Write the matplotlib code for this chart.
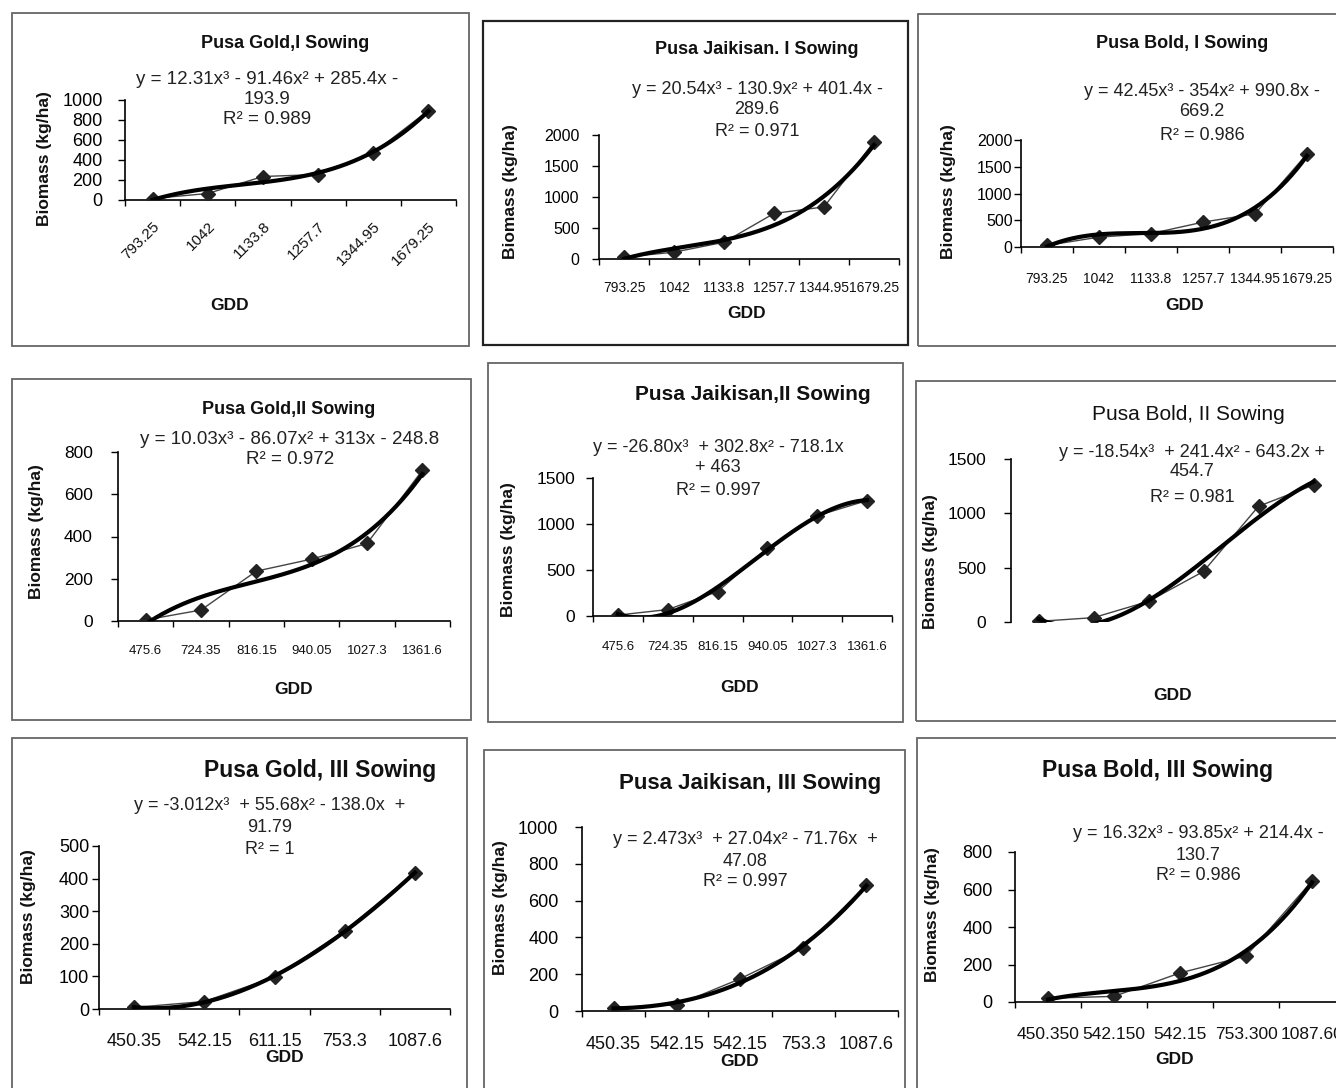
import numpy as np
import matplotlib
matplotlib.use("Agg")
import matplotlib.pyplot as plt
from matplotlib.patches import Rectangle

plt.rcParams['font.family'] = ['Liberation Sans', 'DejaVu Sans']

W, H = 1336, 1088

# GDD category labels
gdd_sow1 = ['793.25', '1042', '1133.8', '1257.7', '1344.95', '1679.25']
gdd_sow2 = ['475.6', '724.35', '816.15', '940.05', '1027.3', '1361.6']
gdd_sow3_gold = ['450.35', '542.15', '611.15', '753.3', '1087.6']
gdd_sow3_jai = ['450.35', '542.15', '542.15', '753.3', '1087.6']
gdd_sow3_bold = ['450.350', '542.150', '542.15', '753.300', '1087.60']

# biomass (kg/ha)
gold_1 = [15, 65, 235, 255, 470, 895]
jai_1 = [30, 110, 270, 735, 840, 1890]
bold_1 = [30, 185, 250, 465, 620, 1740]
gold_2 = [5, 52, 236, 293, 367, 713]
jai_2 = [10, 70, 265, 735, 1090, 1255]
bold_2 = [6, 40, 190, 465, 1065, 1260]
gold_3 = [5, 23, 98, 240, 418]
jai_3 = [18, 33, 175, 342, 685]
bold_3 = [20, 30, 155, 245, 645]

titles = ['Pusa Gold,I Sowing', 'Pusa Jaikisan. I Sowing', 'Pusa Bold, I Sowing',
          'Pusa Gold,II Sowing', 'Pusa Jaikisan,II Sowing', 'Pusa Bold, II Sowing',
          'Pusa Gold, III Sowing', 'Pusa Jaikisan, III Sowing', 'Pusa Bold, III Sowing']

equations = [
    ['y = 12.31x³ - 91.46x² + 285.4x -', '193.9', 'R² = 0.989'],
    ['y = 20.54x³ - 130.9x² + 401.4x -', '289.6', 'R² = 0.971'],
    ['y = 42.45x³ - 354x² + 990.8x -', '669.2', 'R² = 0.986'],
    ['y = 10.03x³ - 86.07x² + 313x - 248.8', 'R² = 0.972'],
    ['y = -26.80x³  + 302.8x² - 718.1x', '+ 463', 'R² = 0.997'],
    ['y = -18.54x³  + 241.4x² - 643.2x +', '454.7', 'R² = 0.981'],
    ['y = -3.012x³  + 55.68x² - 138.0x  +', '91.79', 'R² = 1'],
    ['y = 2.473x³  + 27.04x² - 71.76x  +', '47.08', 'R² = 0.997'],
    ['y = 16.32x³ - 93.85x² + 214.4x -', '130.7', 'R² = 0.986'],
]

series = [gold_1, jai_1, bold_1, gold_2, jai_2, bold_2, gold_3, jai_3, bold_3]
xlabels = [gdd_sow1, gdd_sow1, gdd_sow1, gdd_sow2, gdd_sow2, None,
           gdd_sow3_gold, gdd_sow3_jai, gdd_sow3_bold]

# layout in pixels: box, axes (left, top, right, bottom), y range, text spots
layout = [
    dict(box=(12, 13, 469, 346), ax=(125, 100, 456, 200), ymax=1000, ystep=200,
         title=(285, 43, 13, 'bold'), eq=(267, [79, 99, 120], 13.5), ylab=(44, 159),
         gdd=(230, 305), yts=13, ypad=11, xts=11, xpad=14, rot=45),
    dict(box=(483, 21, 908, 345), ax=(599, 135, 899, 259), ymax=2000, ystep=500,
         title=(757, 49, 13, 'bold'), eq=(757, [90, 110, 131], 13), ylab=(510, 192),
         gdd=(747, 314), yts=11.5, ypad=9, xts=10, xpad=16, rot=0),
    dict(box=(918, 14, 1345, 346), ax=(1021, 140, 1333, 247), ymax=2000, ystep=500,
         title=(1182, 44, 13, 'bold'), eq=(1202, [92, 112, 135], 13), ylab=(948, 192),
         gdd=(1185, 305), yts=11.5, ypad=1, xts=10, xpad=18, rot=0),
    dict(box=(12, 379, 471, 720), ax=(118, 452, 450, 621), ymax=800, ystep=200,
         title=(289, 409, 13, 'bold'), eq=(290, [439, 460], 13.5), ylab=(37, 532),
         gdd=(294, 689), yts=12.5, ypad=13, xts=9.5, xpad=17, rot=0),
    dict(box=(488, 363, 903, 722), ax=(593, 478, 892, 616), ymax=1500, ystep=500,
         title=(753, 395, 15, 'bold'), eq=(718, [448, 468, 490], 13), ylab=(508, 550),
         gdd=(740, 688), yts=12.5, ypad=8, xts=9.5, xpad=18, rot=0),
    dict(box=(916, 381, 1345, 721), ax=(1011, 459, 1341, 622), ymax=1500, ystep=500,
         title=(1188, 415, 15, 'normal'), eq=(1192, [452, 472, 497], 13), ylab=(930, 562),
         gdd=(1173, 695), yts=12.5, ypad=13, xts=10, xpad=18, rot=0),
    dict(box=(12, 738, 467, 1100), ax=(99, 846, 450, 1009), ymax=500, ystep=100,
         title=(320, 770, 16.5, 'bold'), eq=(270, [806, 827, 849], 13), ylab=(29, 917),
         gdd=(285, 1058), yts=13, ypad=2, xts=13, xpad=17, rot=0),
    dict(box=(484, 750, 905, 1100), ax=(582, 827, 898, 1011), ymax=1000, ystep=200,
         title=(750, 783, 16, 'bold'), eq=(745, [840, 861, 882], 13), ylab=(500, 908),
         gdd=(740, 1061), yts=13, ypad=12, xts=13, xpad=18, rot=0),
    dict(box=(917, 738, 1345, 1100), ax=(1015, 852, 1345, 1002), ymax=800, ystep=200,
         title=(1158, 770, 16.5, 'bold'), eq=(1198, [834, 855, 875], 13), ylab=(933, 915),
         gdd=(1175, 1059), yts=13, ypad=11, xts=12.5, xpad=18, rot=0),
]


def fx(x):
    return x / W


def fy(y):
    return 1 - y / H


fig = plt.figure(figsize=(W / 100, H / 100), dpi=100)

for i, lay in enumerate(layout):
    x0, y0, x1, y1 = lay['box']
    edge = '#222222' if i == 1 else '#666666'
    fig.patches.append(Rectangle((fx(x0), fy(y1)), (x1 - x0) / W, (y1 - y0) / H,
                                 transform=fig.transFigure, fill=False,
                                 edgecolor=edge, lw=1.6 if i == 1 else 1.3))

    l, t, r, b = lay['ax']
    ax = fig.add_axes([fx(l), fy(b), (r - l) / W, (b - t) / H])
    ax.patch.set_visible(False)

    vals = series[i]
    n = len(vals)
    xs = np.arange(1, n + 1)
    ax.plot(xs, vals, color='#444444', lw=1, marker='D', ms=7.5,
            mfc='#222222', mec='#222222', zorder=3)
    # cubic trend line fitted to the points, like the spreadsheet trendline
    coef = np.polyfit(xs, vals, 3)
    xx = np.linspace(1, n, 200)
    ax.plot(xx, np.polyval(coef, xx), color='black', lw=3, zorder=4)

    ax.set_xlim(0.5, n + 0.5)
    ax.set_ylim(0, lay['ymax'])
    ax.set_yticks(np.arange(0, lay['ymax'] + 1, lay['ystep']))
    ax.tick_params(axis='y', direction='out', length=5, width=1, pad=lay['ypad'],
                   labelsize=lay['yts'], colors='black')
    for s in ['top', 'right']:
        ax.spines[s].set_visible(False)
    ax.spines['left'].set_linewidth(1.2)
    ax.spines['bottom'].set_linewidth(1.2)

    if xlabels[i] is None:
        ax.spines['bottom'].set_visible(False)
        ax.set_xticks([])
    else:
        ax.set_xticks(np.arange(0.5, n + 1, 1))
        ax.set_xticklabels([])
        ax.tick_params(axis='x', which='major', direction='out', length=4, width=1)
        ax.set_xticks(xs, xlabels[i], minor=True)
        ax.tick_params(axis='x', which='minor', length=0, pad=lay['xpad'],
                       labelsize=lay['xts'], labelcolor='#111111')
        if lay['rot']:
            for lab in ax.get_xticklabels(minor=True):
                lab.set_rotation(lay['rot'])
                lab.set_ha('right')
                lab.set_va('top')
                lab.set_rotation_mode('anchor')

    tx, ty, ts, tw = lay['title']
    fig.text(fx(tx), fy(ty), titles[i], ha='center', va='center', fontsize=ts,
             fontweight=tw, color='#111111')
    ex, eys, es = lay['eq']
    for line, ey in zip(equations[i], eys):
        fig.text(fx(ex), fy(ey), line, ha='center', va='center', fontsize=es,
                 color='#222222')
    lx, ly = lay['ylab']
    fig.text(fx(lx), fy(ly), 'Biomass (kg/ha)', rotation=90, ha='center', va='center',
             fontsize=12.5, fontweight='bold', color='#111111')
    gx, gy = lay['gdd']
    fig.text(fx(gx), fy(gy), 'GDD', ha='center', va='center', fontsize=12.5,
             fontweight='bold', color='#111111')

fig.savefig('out.png', dpi=100)
